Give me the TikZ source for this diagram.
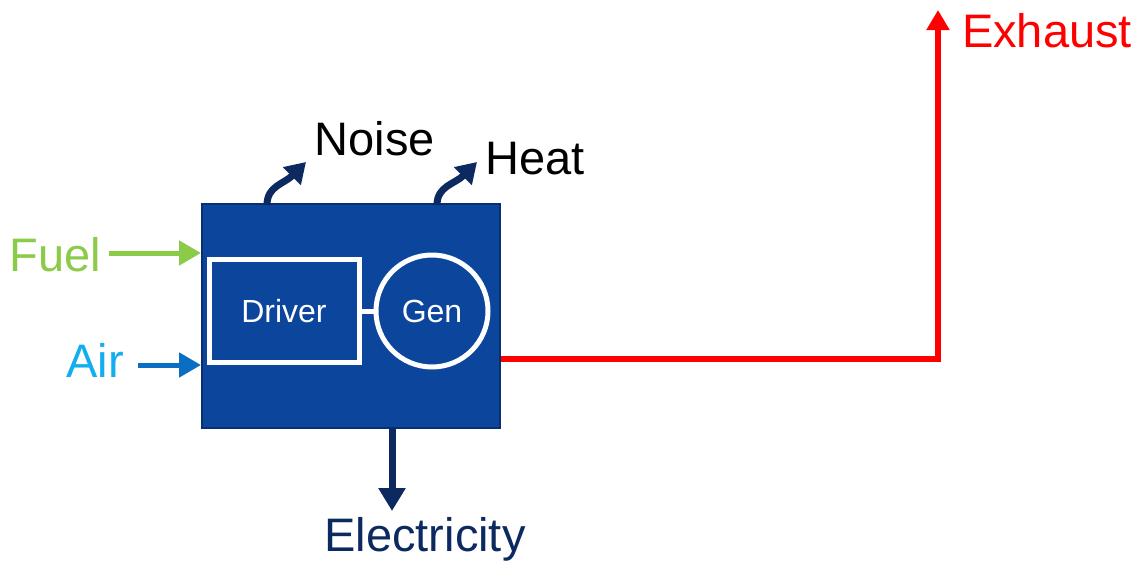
\documentclass[tikz,border=0pt]{standalone}
\usepackage{fontspec}
\setmainfont{Liberation Sans}
\usepackage{tikz}
\usetikzlibrary{arrows.meta, positioning}
\definecolor{boxblue}{HTML}{0B459C}
\definecolor{boxedge}{HTML}{0A2F70}
\definecolor{navy}{HTML}{0C2A60}
\definecolor{fuelgreen}{HTML}{8CCB4A}
\definecolor{airtext}{HTML}{12AEEF}
\definecolor{airarrow}{HTML}{0A6FC2}
\definecolor{exhaustred}{HTML}{FF0000}

\begin{document}
\begin{tikzpicture}[x=1pt, y=-1pt,
    lbl/.style={font=\fontsize{47}{50}\selectfont, inner sep=0pt},
    inner/.style={draw=white, line width=5pt, text=white, font=\fontsize{32}{34}\selectfont},
    flow/.style={line width=5pt, -{Triangle[length=22pt, width=24pt]}},
    loss/.style={navy, line width=7pt, -{Triangle[length=20pt, width=24pt]}}]
    \useasboundingbox (0,0) rectangle (1140,562);

    % Unit box with driver and generator
    \node[draw=boxedge, line width=2pt, fill=boxblue, minimum width=298pt, minimum height=224pt] (unit) at (351,316) {};
    \node[inner, rectangle, minimum width=150pt, minimum height=103pt] (driver) at (284,311) {Driver};
    \node[inner, circle, minimum size=112pt] (gen) at (432,311) {Gen};
    \draw[white, line width=5pt] (driver.east) -- (gen.west);

    % Labels
    \node[lbl, text=fuelgreen] (fuel) at (55,255) {Fuel};
    \node[lbl, text=airtext] (air) at (95,360) {Air};
    \node[lbl] (noise) at (375,139) {Noise};
    \node[lbl] (heat) at (535,159) {Heat};
    \node[lbl, text=exhaustred] (exhaust) at (1047,31) {Exhaust};
    \node[lbl, text=navy] (elec) at (425,539) {Electricity};

    % Inputs
    \coordinate (fuel-in) at (unit.west |- 0,253);
    \coordinate (air-in) at (unit.west |- 0,365);
    \draw[flow, fuelgreen] (fuel.east |- fuel-in) ++(8,0) -- (fuel-in);
    \draw[flow, airarrow] (air.east |- air-in) ++(14,0) -- (air-in);

    % Losses
    \coordinate (noise-s) at (267,205);
    \coordinate (noise-t) at (306,162);
    \coordinate (heat-s) at (437,205);
    \coordinate (heat-t) at (477,162);
    \draw[loss] (noise-s) .. controls (267,186) and (284,184) .. (noise-t);
    \draw[loss] (heat-s) .. controls (437,186) and (455,184) .. (heat-t);

    % Outputs
    \coordinate (ex-s) at (unit.east |- 0,359);
    \coordinate (ex-c) at (938,359);
    \coordinate (ex-t) at (938,10);
    \draw[line width=6pt, exhaustred, -{Triangle[length=20pt, width=22pt]}] (ex-s) -- (ex-c) -- (ex-t);
    \coordinate (el-t) at (392,511);
    \draw[flow, navy, line width=7pt, -{Triangle[length=23pt, width=26pt]}] (unit.south -| el-t) -- (el-t);
\end{tikzpicture}
\end{document}
